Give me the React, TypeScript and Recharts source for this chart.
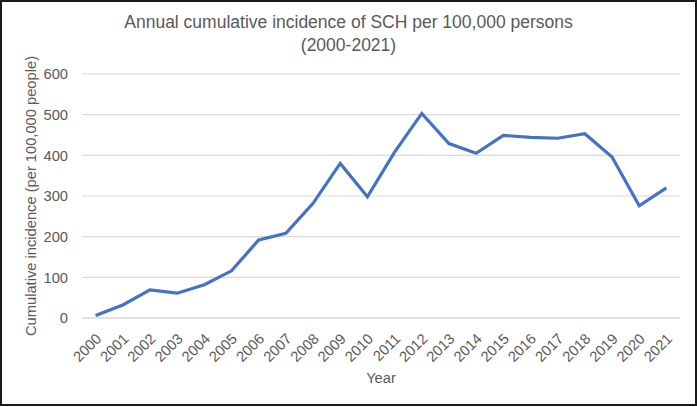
import React from 'react';
import { LineChart, Line, XAxis, YAxis, CartesianGrid } from 'recharts';

const years = [
  '2000', '2001', '2002', '2003', '2004', '2005', '2006', '2007', '2008', '2009', '2010',
  '2011', '2012', '2013', '2014', '2015', '2016', '2017', '2018', '2019', '2020', '2021',
];
const incidence = [
  6, 32, 69, 61, 82, 116, 192, 208, 282, 380, 298,
  408, 503, 429, 405, 449, 444, 442, 453, 396, 276, 320,
];
const yTicks = [0, 100, 200, 300, 400, 500, 600];

const data = years.map((year, i) => ({ year, value: incidence[i] }));

const FONT = '"Liberation Sans", Arial, sans-serif';
const TEXT = '#595959';

// rotated year labels hanging below the category axis
const YearTick = (props: any) => {
  const { x, y, payload } = props;
  return (
    <g transform={`translate(${x + 3},${y + 10})`}>
      <text
        x={0}
        y={0}
        dy="0.35em"
        textAnchor="end"
        transform="rotate(-45)"
        fill={TEXT}
        fontSize={14.7}
        fontFamily={FONT}
      >
        {payload.value}
      </text>
    </g>
  );
};

export default function App() {
  return (
    <div style={{ position: 'absolute', left: 0, top: 0, width: 697, height: 407, background: '#fff' }}>
      <div
        style={{
          position: 'absolute',
          left: 0,
          top: 0,
          width: 697,
          height: 406,
          boxSizing: 'border-box',
          border: '2px solid #1a1a1a',
        }}
      />
      <div
        style={{
          position: 'absolute',
          left: 0,
          top: 11,
          width: 697,
          textAlign: 'center',
          fontFamily: FONT,
          fontSize: 17.5,
          lineHeight: '23px',
          color: TEXT,
        }}
      >
        Annual cumulative incidence of SCH per 100,000 persons
        <br />
        (2000-2021)
      </div>
      <div style={{ position: 'absolute', left: 0, top: 0 }}>
        <LineChart
          width={697}
          height={407}
          data={data}
          margin={{ top: 74, right: 17, bottom: 19, left: 0 }}
        >
          <CartesianGrid vertical={false} stroke="#d9d9d9" strokeWidth={1.2} />
          <XAxis
            dataKey="year"
            height={70}
            interval={0}
            padding={{ left: 13.6, right: 13.6 }}
            tickLine={false}
            axisLine={{ stroke: '#d9d9d9', strokeWidth: 1.2 }}
            tick={<YearTick />}
            label={{
              value: 'Year',
              position: 'insideBottom',
              offset: 5,
              fill: TEXT,
              fontSize: 14.7,
              fontFamily: FONT,
            }}
          />
          <YAxis
            width={82}
            domain={[0, 600]}
            ticks={yTicks}
            tickLine={false}
            axisLine={false}
            tickMargin={8}
            tick={{ fill: TEXT, fontSize: 14.7, fontFamily: FONT }}
            label={{
              value: 'Cumulative incidence (per 100,000 people)',
              angle: -90,
              position: 'insideLeft',
              offset: 31,
              fill: TEXT,
              fontSize: 14.7,
              fontFamily: FONT,
              style: { textAnchor: 'middle' },
            }}
          />
          <Line
            type="linear"
            dataKey="value"
            stroke="#4472C4"
            strokeWidth={3.2}
            dot={false}
            isAnimationActive={false}
          />
        </LineChart>
      </div>
    </div>
  );
}
